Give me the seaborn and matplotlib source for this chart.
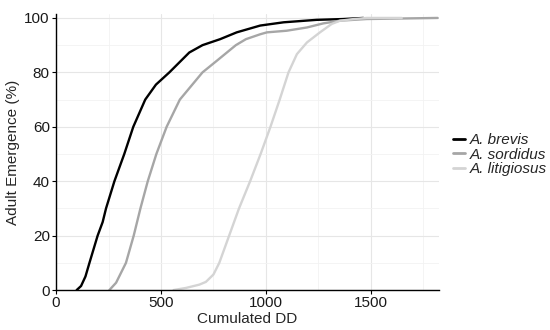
import matplotlib
matplotlib.use("Agg")
import matplotlib.pyplot as plt
import pandas as pd
import seaborn as sns
from matplotlib.ticker import MultipleLocator

# cumulative adult emergence (%) against cumulated degree-days
brevis_dd = [98, 119, 140, 159, 198, 222, 238, 278, 325, 368, 425, 476, 540, 579, 635, 698, 782, 861, 973, 1085, 1242, 1369, 1465]
brevis_pct = [0, 1.5, 5, 10, 20, 25, 30, 40, 50, 60, 70, 75.5, 80, 83, 87.3, 90, 92.2, 94.7, 97.2, 98.4, 99.3, 99.6, 100]

sordidus_dd = [254, 286, 333, 370, 402, 437, 478, 527, 590, 698, 762, 857, 905, 973, 1005, 1099, 1196, 1274, 1354, 1481, 1650, 1819]
sordidus_pct = [0, 2.7, 10, 20, 30, 40, 50, 60, 70, 80, 84, 90, 92.2, 94, 94.7, 95.3, 96.5, 98, 99, 99.6, 99.8, 100]

litigiosus_dd = [560, 620, 683, 714, 750, 778, 825, 872, 925, 975, 1022, 1066, 1108, 1148, 1196, 1258, 1314, 1354, 1420, 1481, 1648]
litigiosus_pct = [0, 0.8, 2, 3, 5.7, 10, 20, 30, 40, 50, 60, 70, 80, 86.7, 91, 94.7, 97.8, 99, 99.6, 100, 100]

species = ["A. brevis", "A. sordidus", "A. litigiosus"]
colors = ["#000000", "#a6a6a6", "#d4d4d4"]

df = pd.concat([
    pd.DataFrame({"dd": brevis_dd, "pct": brevis_pct, "species": species[0]}),
    pd.DataFrame({"dd": sordidus_dd, "pct": sordidus_pct, "species": species[1]}),
    pd.DataFrame({"dd": litigiosus_dd, "pct": litigiosus_pct, "species": species[2]}),
])

sns.set_style("white")
plt.rcParams["font.family"] = ["Liberation Sans", "DejaVu Sans"]

fig = plt.figure(figsize=(5.5, 3.3), dpi=100)
ax = fig.add_axes([0.102, 0.121, 0.696, 0.837])

sns.lineplot(data=df, x="dd", y="pct", hue="species", hue_order=species,
             palette=colors, linewidth=1.7, sort=False, estimator=None, ax=ax)

ax.set_xlim(0, 1825)
ax.set_ylim(0, 101.5)
ax.xaxis.set_major_locator(MultipleLocator(500))
ax.xaxis.set_minor_locator(MultipleLocator(250))
ax.yaxis.set_major_locator(MultipleLocator(20))
ax.yaxis.set_minor_locator(MultipleLocator(10))
ax.grid(which="major", color="#e6e6e6", linewidth=0.8)
ax.grid(which="minor", color="#f2f2f2", linewidth=0.6)
ax.set_axisbelow(True)

for side in ["top", "right"]:
    ax.spines[side].set_visible(False)
for side in ["left", "bottom"]:
    ax.spines[side].set_color("black")
    ax.spines[side].set_linewidth(1.0)

ax.tick_params(which="major", direction="out", length=3, width=0.8, color="black",
               labelsize=11, labelcolor="#1a1a1a", left=True, bottom=True, pad=1.5)
ax.tick_params(which="minor", length=0)

ax.set_xlabel("Cumulated DD", fontsize=11, labelpad=1)
ax.set_ylabel("Adult Emergence (%)", fontsize=11, labelpad=3)

leg = ax.legend(loc="center left", bbox_to_anchor=(1.02, 0.49), frameon=False,
                handlelength=0.8, handletextpad=0.35, labelspacing=0.05, fontsize=11,
                borderaxespad=0)
for t in leg.get_texts():
    t.set_fontstyle("italic")
for h in leg.get_lines():
    h.set_linewidth(2)

fig.savefig("out.png", dpi=100)
